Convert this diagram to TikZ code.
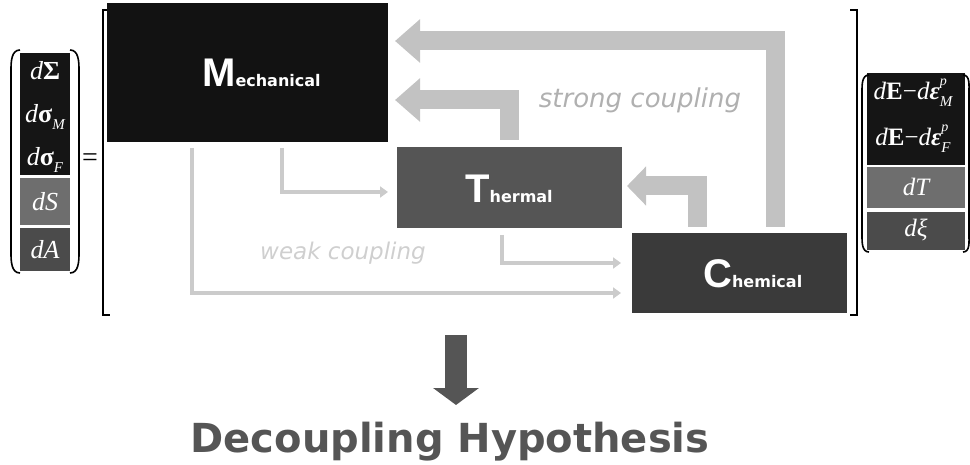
\documentclass[tikz,border=0pt]{standalone}
\usepackage{fontspec}
\usetikzlibrary{arrows.meta}
\newfontfamily\dvs{DejaVu Sans}
\newfontfamily\lib{Liberation Sans}
\newfontfamily\tms{Liberation Serif}
\definecolor{mechc}{HTML}{121212}
\definecolor{thermc}{HTML}{555555}
\definecolor{chemc}{HTML}{3A3A3A}
\definecolor{vblack}{HTML}{151515}
\definecolor{vlight}{HTML}{6E6E6E}
\definecolor{vdark}{HTML}{4B4B4B}
\definecolor{strongc}{HTML}{C2C2C2}
\definecolor{weakc}{HTML}{CBCBCB}
\definecolor{strongtxt}{HTML}{B0B0B0}
\definecolor{weaktxt}{HTML}{CFCFCF}
\definecolor{hypc}{HTML}{555555}
\newcommand{\biglet}[1]{{\lib\bfseries\fontsize{40}{40}\selectfont #1}}
\newcommand{\smallrest}[1]{{\dvs\bfseries\fontsize{16}{16}\selectfont #1}}
\newcommand{\vi}[1]{{\itshape #1}}
\newcommand{\vb}[1]{{\bfseries #1}}
\newcommand{\vbi}[1]{{\bfseries\itshape #1}}
\newcommand{\sub}[1]{\raisebox{-0.28em}{\fontsize{15}{15}\selectfont\itshape #1}}
\newcommand{\supsub}[2]{\makebox[0pt][l]{\raisebox{0.55em}{\fontsize{14}{14}\selectfont\itshape #1}}\raisebox{-0.3em}{\fontsize{15}{15}\selectfont\itshape #2}}
\begin{document}
\begin{tikzpicture}[x=1pt,y=-1pt,
  box/.style={inner sep=0pt, outer sep=0pt},
  lbl/.style={inner sep=0pt, text=white, anchor=base west},
  mlbl/.style={inner sep=0pt, text=white, font=\tms\fontsize{26}{28}\selectfont},
  rlbl/.style={inner sep=0pt, text=white, font=\tms\fontsize{25}{28}\selectfont},
  paren/.style={draw=black, line width=1.6pt},
  brk/.style={draw=black, line width=1.3pt},
  strong/.style={draw=strongc, line width=19pt, line join=miter,
    -{Triangle[width=42pt 0 0,length=25pt 0 0]}},
  smallstrong/.style={draw=strongc, line width=19pt, line join=miter,
    -{Triangle[width=38pt 0 0,length=19pt 0 0]}},
  weak/.style={draw=weakc, line width=4pt, line join=miter,
    -{Triangle[width=11pt 0 0,length=8pt 0 0]}},
]
\useasboundingbox (0,0) rectangle (970,465);

% left vector
\fill[vblack] (20,53) rectangle (70,175);
\fill[vlight] (20,178) rectangle (70,225);
\fill[vdark] (20,228) rectangle (70,271);
\node[mlbl] (l1) at (45,71) {\vi{d}\vb{Σ}};
\node[mlbl] (l2) at (45,117) {\vi{d}\vb{σ}\sub{M}};
\node[mlbl] (l3) at (45,160) {\vi{d}\vb{σ}\sub{F}};
\node[mlbl] (l4) at (45,202) {\vi{dS}};
\node[mlbl] (l5) at (45,250) {\vi{dA}};
\draw[paren] (20,50) to[out=180,in=90] (11,70) -- (11,253) to[out=-90,in=180] (20,273);
\draw[paren] (70,50) to[out=0,in=90] (79,70) -- (79,253) to[out=-90,in=0] (70,273);
\node[inner sep=0pt, font=\tms\fontsize{28}{28}\selectfont] (eq) at (90,160) {=};

% big brackets
\draw[brk] (110,10) -- (103,10) -- (103,315) -- (110,315);
\draw[brk] (850,10) -- (857,10) -- (857,315) -- (850,315);

% right vector
\fill[vblack] (867,73) rectangle (965,165);
\fill[vlight] (867,167) rectangle (965,208);
\fill[vdark] (867,212) rectangle (965,250);
\node[rlbl] (r1) at (913,93) {\vi{d}\vb{E}−\vi{d}\vbi{ε}\supsub{p}{M}};
\node[rlbl] (r2) at (913,139) {\vi{d}\vb{E}−\vi{d}\vbi{ε}\supsub{p}{F}};
\node[rlbl] (r3) at (916,187) {\vi{dT}};
\node[rlbl] (r4) at (916,230) {\vi{dξ}};
\draw[paren] (869,75) to[out=180,in=90] (862,92) -- (862,235) to[out=-90,in=180] (869,252);
\draw[paren] (963,75) to[out=0,in=90] (969,92) -- (969,235) to[out=-90,in=0] (963,252);

% boxes
\node[box, fill=mechc, minimum width=281pt, minimum height=139pt] (mech) at (247.5,72.5) {};
\node[box, fill=thermc, minimum width=225pt, minimum height=81pt] (therm) at (509.5,187.5) {};
\node[box, fill=chemc, minimum width=215pt, minimum height=80pt] (chem) at (739.5,273) {};
\node[lbl] (mechl) at (202,87) {\biglet{M}\smallrest{echanical}};
\node[lbl] (therml) at (465,203) {\biglet{T}\smallrest{hermal}};
\node[lbl] (cheml) at (703,288) {\biglet{C}\smallrest{hemical}};

% strong coupling arrows
\coordinate (s1a) at (775,227);
\coordinate (s1b) at (395,41);
\coordinate (s2a) at (509,140);
\coordinate (s2b) at (395,100);
\coordinate (s3a) at (697,227);
\coordinate (s3b) at (627,186);
\draw[strong] (s1a) |- (s1b);
\draw[strong] (s2a) |- (s2b);
\draw[smallstrong] (s3a) |- (s3b);
\node[inner sep=0pt, text=strongtxt, font=\dvs\itshape\fontsize{26}{26}\selectfont] (sc) at (640,100) {strong coupling};

% weak coupling arrows
\coordinate (w1a) at (282,148);
\coordinate (w1b) at (388,192);
\coordinate (w2a) at (502,235);
\coordinate (w2b) at (621,263);
\coordinate (w3a) at (192,148);
\coordinate (w3b) at (621,293);
\draw[weak] (w1a) |- (w1b);
\draw[weak] (w2a) |- (w2b);
\draw[weak] (w3a) |- (w3b);
\node[inner sep=0pt, text=weaktxt, font=\dvs\itshape\fontsize{23}{23}\selectfont] (wc) at (343,253) {weak coupling};

% decoupling
\coordinate (dtop) at (456,335);
\coordinate (dtip) at (456,405);
\draw[draw=hypc, line width=22pt, -{Triangle[width=45pt 0 0,length=17pt 0 0]}] (dtop) -- (dtip);
\node[inner sep=0pt, anchor=base, text=hypc, font=\dvs\bfseries\fontsize{40}{40}\selectfont] (hyp) at (450,452) {Decoupling Hypothesis};
\end{tikzpicture}
\end{document}
